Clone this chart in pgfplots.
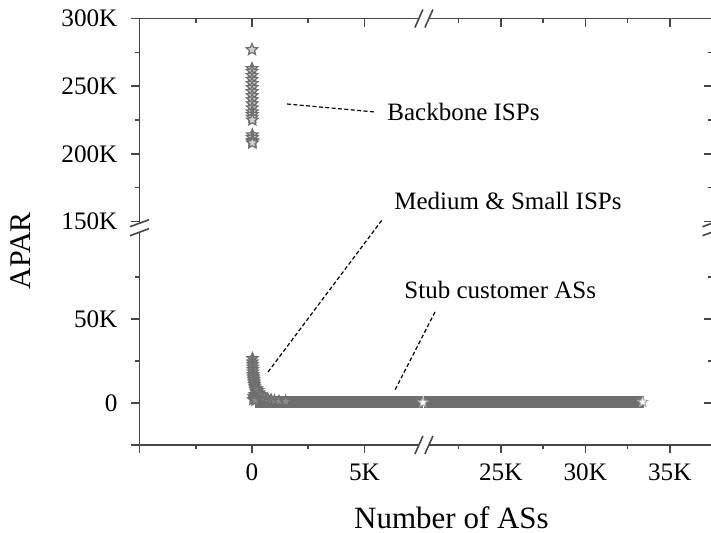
\documentclass[border=0pt]{standalone}
\usepackage{fontspec}
\setmainfont{Liberation Serif}
\usepackage{pgfplots}
\pgfplotsset{compat=1.18}
\definecolor{mk}{RGB}{110,110,110}
\definecolor{axc}{RGB}{70,70,70}

\pgfdeclareplotmark{ostar}{%
  \pgfpathmoveto{\pgfpointpolar{90}{\pgfplotmarksize}}%
  \pgfpathlineto{\pgfpointpolar{126}{0.45\pgfplotmarksize}}%
  \pgfpathlineto{\pgfpointpolar{162}{\pgfplotmarksize}}%
  \pgfpathlineto{\pgfpointpolar{198}{0.45\pgfplotmarksize}}%
  \pgfpathlineto{\pgfpointpolar{234}{\pgfplotmarksize}}%
  \pgfpathlineto{\pgfpointpolar{270}{0.45\pgfplotmarksize}}%
  \pgfpathlineto{\pgfpointpolar{306}{\pgfplotmarksize}}%
  \pgfpathlineto{\pgfpointpolar{342}{0.45\pgfplotmarksize}}%
  \pgfpathlineto{\pgfpointpolar{18}{\pgfplotmarksize}}%
  \pgfpathlineto{\pgfpointpolar{54}{0.45\pgfplotmarksize}}%
  \pgfpathclose
  \pgfusepathqfillstroke}

% broken axes: values in thousands
\pgfplotsset{
  x coord trafo/.code={\pgfmathparse{(#1)<=7.64 ? (#1)*22.5 : ((#1)>=20.44 ? 171.9+((#1)-20.44)*16.9 : 171.9)}},
  y coord trafo/.code={\pgfmathparse{(#1)<=104 ? (#1)*1.68 : ((#1)>=145 ? 174.7+((#1)-145)*1.3533 : 174.7)}},
  brk/.style={scale only axis, width=286.25pt, height=213.25pt,
    xmin=-5, xmax=37.5, ymin=-25, ymax=300,
    xtick={-5,0,5,25,30,35}, minor xtick={-2.5,2.5,22.5,27.5,32.5},
    ytick={-25,0,50,150,200,250,300}, minor ytick={25,75,175,225,275},
    axis line style={axc, line width=0.9pt},
    every tick/.style={axc, line width=0.8pt},
    major tick length=4pt, minor tick length=2.2pt},
}

\begin{document}
\begin{tikzpicture}
\begin{axis}[brk, tick align=outside, tick pos=left,
  xticklabels={,0,5K,25K,30K,35K},
  yticklabels={,0,50K,150K,200K,250K,300K},
  tick label style={font=\fontsize{12.6}{13}\selectfont},
  yticklabel style={anchor=east, xshift=-3.5pt},
  xticklabel style={anchor=north, yshift=-2pt},
  xlabel={Number of ASs}, ylabel={APAR},
  xlabel style={at={(axis description cs:0.545,-0.1946)}, anchor=base, font=\fontsize{15.5}{16}\selectfont},
  ylabel style={at={(axis description cs:-0.207,0.455)}, anchor=center, font=\fontsize{15}{16}\selectfont},
]
% stub customer ASs (dense band)
\addplot[mk, line width=6pt, no marks] coordinates {(0.15,0.6) (7.62,0.6)};
\addplot[mk, line width=6pt, no marks] coordinates {(20.46,0.6) (33.45,0.6)};
% medium & small ISPs
\addplot[only marks, mark=ostar, mark size=2.9pt, mark options={draw=mk, fill=mk!80, line width=0.6pt}] coordinates {
(0.12,5) (0.08,4) (0.1,3) (0.05,2) (0.15,1.5)
(0.022,26.5) (0.025,24.5) (0.03,23) (0.035,21.5) (0.04,20) (0.045,18.5) (0.05,17)
(0.06,16) (0.07,15) (0.08,14) (0.09,13) (0.1,12) (0.11,11) (0.12,10) (0.14,9)
(0.16,8) (0.18,7) (0.2,6.5)
(0.22,8.5) (0.27,7.5) (0.32,6) (0.38,5) (0.45,4.2) (0.55,3.3) (0.7,2.5) (0.85,1.9)
(1.0,1.4) (1.2,1.1) (1.5,0.9)
};
% backbone ISPs
\addplot[only marks, mark=ostar, mark size=3pt, mark options={draw=mk, fill=white!70!mk, line width=0.6pt}] coordinates {
(0.001,277) (0.002,263) (0.003,261) (0.004,258) (0.005,255) (0.006,252) (0.007,249)
(0.008,246) (0.009,243) (0.010,240) (0.011,237) (0.012,234) (0.013,231) (0.014,229)
(0.015,227) (0.016,225) (0.017,214) (0.018,212) (0.019,210) (0.020,209) (0.021,208)
};
% end points of the band
\addplot[only marks, mark=ostar, mark size=2.6pt, mark options={draw=mk!60, fill=white, line width=0.5pt}] coordinates {(7.6,0.3) (33.4,0.6)};
\end{axis}
\begin{axis}[brk, tick align=inside, tick pos=right,
  xticklabels={}, yticklabels={}, axis line style={draw=none}]
\end{axis}

% break marks
\begin{scope}[axc, line width=0.8pt]
\foreach \xx in {0pt,286.25pt}{
  \fill[white] (\xx-1.2pt,106.4pt) rectangle (\xx+1.2pt,110.9pt);
  \draw (\xx-4.75pt,109.15pt) -- (\xx+4.75pt,112.65pt);
  \draw (\xx-4.75pt,104.65pt) -- (\xx+4.75pt,108.15pt);
}
\foreach \yy in {0pt,213.25pt}{
  \fill[white] (139.7pt,\yy-1.2pt) rectangle (144.7pt,\yy+1.2pt);
  \draw (137.7pt,\yy-4.5pt) -- (141.7pt,\yy+4.5pt);
  \draw (142.7pt,\yy-4.5pt) -- (146.7pt,\yy+4.5pt);
}
\end{scope}

% annotations
\begin{scope}[black, line width=0.6pt, dash pattern=on 2pt off 1.2pt]
\draw (73.75pt,170.5pt) -- (117.75pt,166.5pt);
\draw (64.25pt,36.5pt) -- (121.25pt,112.5pt);
\draw (147.75pt,66.5pt) -- (127.75pt,27.5pt);
\end{scope}
\node[anchor=base west, inner sep=0pt, font=\fontsize{12.5}{13}\selectfont] at (123.75pt,162.2pt) {Backbone ISPs};
\node[anchor=base west, inner sep=0pt, font=\fontsize{12.5}{13}\selectfont] at (127.25pt,118pt) {Medium \& Small ISPs};
\node[anchor=base west, inner sep=0pt, font=\fontsize{12.5}{13}\selectfont] at (132.25pt,73.5pt) {Stub customer ASs};

\pgfresetboundingbox
\path[use as bounding box] (-69.75pt,-43.5pt) rectangle (285.75pt,222.5pt);
\end{tikzpicture}
\end{document}
